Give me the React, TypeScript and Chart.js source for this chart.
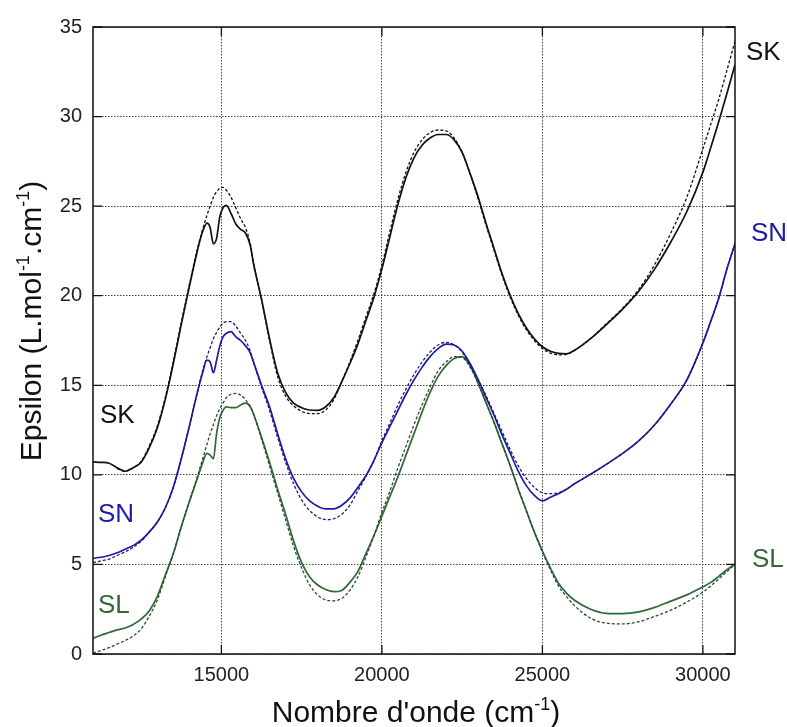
import React, { useEffect, useRef } from 'react';
import { Chart, registerables } from 'chart.js';

Chart.register(...registerables);

const FONT = '"Liberation Sans", Arial, Helvetica, sans-serif';

const wavenumbers = [
  11000, 11250, 11500, 11750, 12000, 12250, 12500, 12750, 13000, 13250,
  13500, 13750, 14000, 14250, 14400, 14550, 14650, 14750, 14850, 14950,
  15050, 15150, 15300, 15450, 15600, 15750, 15900, 16000, 16250, 16500,
  16750, 17000, 17250, 17500, 17750, 18000, 18250, 18500, 18750, 19000,
  19250, 19500, 19750, 20000, 20250, 20500, 20750, 21000, 21250, 21500,
  21750, 22000, 22250, 22500, 22750, 23000, 23250, 23500, 23750, 24000,
  24250, 24500, 24750, 25000, 25250, 25500, 25750, 26000, 26500, 27000,
  27500, 28000, 28500, 29000, 29500, 30000, 30250, 30500, 30750, 31000,
];

const skMeasured = [
  10.72, 10.7, 10.65, 10.4, 10.2, 10.4, 10.7, 11.5, 12.6, 14.2,
  16.2, 18.4, 20.5, 22.5, 23.5, 24.05, 23.8, 22.9, 23.2, 24.4,
  24.9, 25.05, 24.6, 24.0, 23.7, 23.5, 22.8, 21.8, 19.8, 17.6,
  15.7, 14.6, 14.0, 13.75, 13.62, 13.6, 13.8, 14.3, 15.2, 16.2,
  17.3, 18.6, 19.9, 21.5, 23.3, 25.1, 26.6, 27.7, 28.4, 28.8,
  29.0, 29.0, 28.7, 28.0, 26.8, 25.5, 24.0, 22.6, 21.2, 20.0,
  19.0, 18.2, 17.6, 17.15, 16.9, 16.78, 16.76, 16.95, 17.6, 18.4,
  19.25, 20.25, 21.5, 23.0, 24.7, 26.9, 28.3, 29.75, 31.3, 32.9,
];
const skFit = [
  null, null, null, 10.35, 10.2, 10.4, 10.75, 11.6, 12.7, 14.3,
  16.3, 18.5, 20.6, 22.6, 23.6, 24.5, 25.0, 25.5, 25.8, 26.0,
  26.05, 25.9, 25.5, 24.9, 24.3, 23.8, 22.9, 21.8, 19.8, 17.5,
  15.5, 14.4, 13.85, 13.55, 13.42, 13.42, 13.62, 14.2, 15.2, 16.3,
  17.5, 18.8, 20.1, 21.7, 23.6, 25.4, 26.9, 28.0, 28.7, 29.1,
  29.25, 29.2, 28.8, 28.0, 26.8, 25.4, 23.9, 22.5, 21.1, 19.9,
  18.9, 18.1, 17.5, 17.05, 16.8, 16.7, 16.72, 16.95, 17.6, 18.45,
  19.3, 20.35, 21.75, 23.5, 25.5, 28.2, 29.6, 31.0, 32.6, 34.2,
];

const snMeasured = [
  5.34, 5.4, 5.5, 5.65, 5.85, 6.05, 6.35, 6.8, 7.35, 8.15,
  9.3, 10.9, 12.7, 14.6, 15.6, 16.4, 16.3, 15.7, 16.4, 17.2,
  17.7, 17.9, 18.0, 17.7, 17.5, 17.2, 16.8, 16.3, 15.0, 13.8,
  12.3, 10.9, 9.8, 9.05, 8.55, 8.25, 8.1, 8.1, 8.3, 8.7,
  9.3, 9.95, 10.8, 11.8, 12.7, 13.6, 14.5, 15.3, 16.0, 16.6,
  17.05, 17.3, 17.25, 16.9, 16.2, 15.3, 14.3, 13.3, 12.2, 11.2,
  10.2, 9.4, 8.85, 8.55, 8.75, 8.95, 9.2, 9.5, 10.03, 10.6,
  11.2, 11.9, 12.8, 13.95, 15.3, 17.37, 18.6, 19.9, 21.5, 22.9,
];
const snFit = [
  5.1, 5.2, 5.3, 5.5, 5.7, 5.95, 6.3, 6.8, 7.35, 8.15,
  9.3, 10.9, 12.7, 14.6, 15.7, 16.6, 17.1, 17.6, 17.95, 18.25,
  18.45, 18.55, 18.55, 18.3, 17.9, 17.5, 16.9, 16.3, 14.9, 13.6,
  12.1, 10.7, 9.5, 8.6, 8.0, 7.65, 7.5, 7.55, 7.8, 8.3,
  9.1, 9.9, 10.8, 11.9, 12.9, 13.9, 14.8, 15.6, 16.3, 16.85,
  17.25, 17.4, 17.25, 16.85, 16.1, 15.3, 14.4, 13.4, 12.4, 11.4,
  10.5, 9.8, 9.3, 9.0, 8.95, 9.0, 9.2, 9.5, 10.03, 10.6,
  11.2, 11.9, 12.8, 13.95, 15.3, 17.37, 18.6, 19.9, 21.5, 22.9,
];

const slMeasured = [
  0.87, 1.05, 1.2, 1.35, 1.45, 1.65, 1.95, 2.4, 3.2, 4.4,
  5.6, 7.1, 8.5, 9.8, 10.6, 11.2, 11.1, 10.9, 12.3, 13.2,
  13.6, 13.8, 13.75, 13.75, 13.9, 14.0, 13.8, 13.4, 12.1, 10.7,
  9.2, 7.8, 6.3, 5.1, 4.3, 3.85, 3.6, 3.48, 3.55, 4.0,
  4.6, 5.6, 6.6, 7.7, 8.8, 9.9, 11.1, 12.3, 13.5, 14.6,
  15.5, 16.1, 16.5, 16.6, 16.1, 15.1, 14.0, 12.9, 11.7, 10.5,
  9.2, 8.0, 6.8, 5.75, 4.8, 3.95, 3.4, 3.0, 2.5, 2.27,
  2.25, 2.35, 2.6, 2.95, 3.3, 3.75, 4.0, 4.35, 4.7, 5.02,
];
const slFit = [
  0.05, 0.2, 0.35, 0.55, 0.75, 1.0, 1.4, 2.1, 3.0, 4.3,
  5.6, 7.1, 8.5, 9.9, 10.8, 11.7, 12.3, 12.8, 13.3, 13.7,
  14.0, 14.3, 14.5, 14.55, 14.45, 14.2, 13.8, 13.4, 12.0, 10.5,
  9.0, 7.5, 6.0, 4.8, 3.85, 3.3, 3.02, 2.97, 3.1, 3.55,
  4.3, 5.4, 6.6, 7.9, 9.1, 10.4, 11.6, 12.8, 13.9, 14.9,
  15.8, 16.3, 16.6, 16.55, 16.0, 15.1, 14.0, 12.9, 11.7, 10.5,
  9.2, 8.0, 6.8, 5.7, 4.7, 3.8, 3.2, 2.7, 2.0, 1.72,
  1.68, 1.8, 2.1, 2.45, 2.9, 3.45, 3.8, 4.2, 4.6, 5.0,
];

const xTicks = [15000, 20000, 25000, 30000];
const yTicks = [0, 5, 10, 15, 20, 25, 30, 35];

const BLACK = '#111111';
const BLUE = '#1c1ca6';
const GREEN = '#2f6a38';
const BLUE_DOT = '#1a1a7a';
const GREEN_DOT = '#2c4a32';

type Part = { text: string; sup?: boolean };

function drawParts(ctx: CanvasRenderingContext2D, parts: Part[], size: number) {
  const supSize = Math.round(size * 0.6);
  const widths = parts.map((p) => {
    ctx.font = `${p.sup ? supSize : size}px ${FONT}`;
    return ctx.measureText(p.text).width;
  });
  const total = widths.reduce((a, b) => a + b, 0);
  let x = -total / 2;
  parts.forEach((p, i) => {
    ctx.font = `${p.sup ? supSize : size}px ${FONT}`;
    ctx.fillText(p.text, x, p.sup ? -size * 0.4 : 0);
    x += widths[i];
  });
}

const decorPlugin = {
  id: 'decor',
  afterDraw(chart: any) {
    const ctx: CanvasRenderingContext2D = chart.ctx;
    const { left, top, right, bottom } = chart.chartArea;
    const xs = chart.scales.x;
    const ys = chart.scales.y;
    ctx.save();
    ctx.strokeStyle = '#111';
    ctx.lineWidth = 1.5;
    ctx.strokeRect(left, top, right - left, bottom - top);
    ctx.lineWidth = 1.3;
    ctx.beginPath();
    xTicks.forEach((v) => {
      const px = xs.getPixelForValue(v);
      ctx.moveTo(px, bottom);
      ctx.lineTo(px, bottom - 9);
      ctx.moveTo(px, top);
      ctx.lineTo(px, top + 9);
    });
    yTicks.forEach((v) => {
      const py = ys.getPixelForValue(v);
      ctx.moveTo(left, py);
      ctx.lineTo(left + 9, py);
      ctx.moveTo(right, py);
      ctx.lineTo(right - 9, py);
    });
    ctx.stroke();

    ctx.font = `26px ${FONT}`;
    ctx.textBaseline = 'middle';
    ctx.textAlign = 'left';
    const labels: [string, string, number, number][] = [
      ['SK', BLACK, 100, 416],
      ['SN', BLUE, 98, 515],
      ['SL', GREEN, 98, 606],
      ['SK', BLACK, 746, 53],
      ['SN', BLUE, 751, 234],
      ['SL', GREEN, 752, 560],
    ];
    labels.forEach(([t, c, x, y]) => {
      ctx.fillStyle = c;
      ctx.fillText(t, x, y);
    });

    ctx.fillStyle = '#111';
    ctx.textBaseline = 'alphabetic';
    ctx.textAlign = 'left';
    ctx.save();
    ctx.translate((left + right) / 2 + 2, 722);
    drawParts(ctx, [{ text: "Nombre d'onde (cm" }, { text: '-1', sup: true }, { text: ')' }], 30);
    ctx.restore();
    ctx.save();
    ctx.translate(41, 321);
    ctx.rotate(-Math.PI / 2);
    drawParts(
      ctx,
      [{ text: 'Epsilon (L.mol' }, { text: '-1', sup: true }, { text: '.cm' }, { text: '-1', sup: true }, { text: ')' }],
      30
    );
    ctx.restore();
    ctx.restore();
  },
};

function pts(vals: (number | null)[]) {
  return wavenumbers
    .map((x, i) => ({ x, y: vals[i] }))
    .filter((p) => p.y !== null) as { x: number; y: number }[];
}

export default function App() {
  const ref = useRef<HTMLCanvasElement | null>(null);
  useEffect(() => {
    if (!ref.current) return;
    const solid = (label: string, data: (number | null)[], color: string) => ({
      label,
      data: pts(data),
      borderColor: color,
      borderWidth: 1.7,
      pointRadius: 0,
      fill: false,
      cubicInterpolationMode: 'monotone' as const,
    });
    const dotted = (label: string, data: (number | null)[], color: string) => ({
      label,
      data: pts(data),
      borderColor: color,
      borderWidth: 1.3,
      borderDash: [3, 2],
      pointRadius: 0,
      fill: false,
      cubicInterpolationMode: 'monotone' as const,
    });
    const chart = new Chart(ref.current, {
      type: 'line',
      data: {
        datasets: [
          dotted('SK fit', skFit, BLACK),
          dotted('SN fit', snFit, BLUE_DOT),
          dotted('SL fit', slFit, GREEN_DOT),
          solid('SK', skMeasured, BLACK),
          solid('SN', snMeasured, BLUE),
          solid('SL', slMeasured, GREEN),
        ],
      },
      options: {
        responsive: false,
        animation: false,
        devicePixelRatio: 1,
        layout: { padding: { left: 0, top: 27, right: 52, bottom: 0 } },
        plugins: { legend: { display: false }, tooltip: { enabled: false } },
        scales: {
          x: {
            type: 'linear',
            min: 11000,
            max: 31000,
            afterBuildTicks: (s: any) => {
              s.ticks = xTicks.map((v) => ({ value: v }));
            },
            afterFit: (s: any) => {
              s.height = 73;
            },
            grid: { color: '#444', lineWidth: 1, drawTicks: false },
            border: { display: false, dash: [1.5, 1.5] },
            ticks: {
              padding: 9,
              color: '#222',
              font: { family: FONT, size: 20 },
              maxRotation: 0,
              callback: (v: any) => String(v),
            },
          },
          y: {
            type: 'linear',
            min: 0,
            max: 35,
            afterBuildTicks: (s: any) => {
              s.ticks = yTicks.map((v) => ({ value: v }));
            },
            afterFit: (s: any) => {
              s.width = 93;
            },
            grid: { color: '#444', lineWidth: 1, drawTicks: false },
            border: { display: false, dash: [1.5, 1.5] },
            ticks: {
              padding: 11,
              color: '#222',
              font: { family: FONT, size: 20 },
              callback: (v: any) => String(v),
            },
          },
        },
      },
      plugins: [decorPlugin],
    });
    return () => chart.destroy();
  }, []);
  return (
    <div style={{ position: 'absolute', left: 0, top: 0, width: 787, height: 727, background: '#fff' }}>
      <canvas ref={ref} width={787} height={727} style={{ width: 787, height: 727, display: 'block' }} />
    </div>
  );
}
